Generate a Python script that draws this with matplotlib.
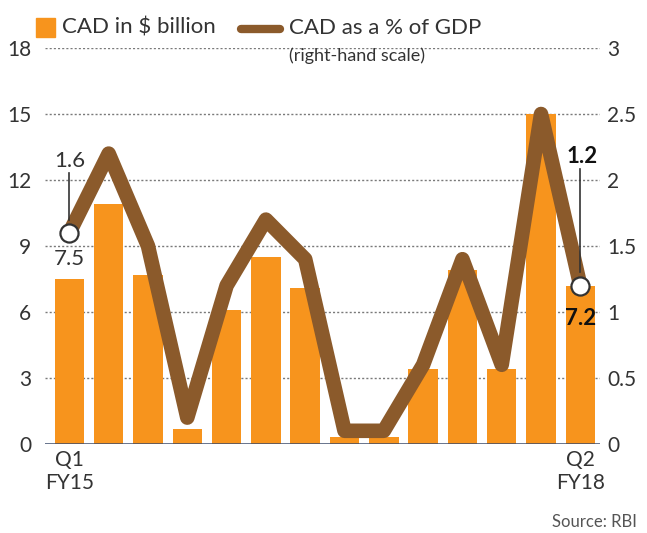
import matplotlib
matplotlib.use("Agg")
import matplotlib.pyplot as plt
from matplotlib.lines import Line2D
import numpy as np

quarters = ["Q1\nFY15", "Q2", "Q3", "Q4", "Q1", "Q2", "Q3", "Q4",
            "Q1", "Q2", "Q3", "Q4", "Q1", "Q2\nFY18"]
cad_bn = [7.5, 10.9, 7.7, 0.7, 6.1, 8.5, 7.1, 0.3, 0.3, 3.4, 7.9, 3.4, 15.0, 7.2]
cad_pct = [1.6, 2.2, 1.5, 0.2, 1.2, 1.7, 1.4, 0.1, 0.1, 0.6, 1.4, 0.6, 2.5, 1.2]
left_ticks = [0, 3, 6, 9, 12, 15, 18]
right_ticks = [0, 0.5, 1, 1.5, 2, 2.5, 3]
right_labels = ["0", "0.5", "1", "1.5", "2", "2.5", "3"]

ORANGE = "#F7941D"
BROWN = "#8B5A2B"
TXT = "#333333"

plt.rcParams['font.family'] = ['Lato', 'DejaVu Sans']

fig = plt.figure(figsize=(6.47, 5.33), dpi=100)
ax = fig.add_axes([45/647, 89/533, 555/647, 396/533])
ax2 = ax.twinx()

x = np.arange(len(cad_bn))
ax.bar(x, cad_bn, width=0.75, color=ORANGE, zorder=2)
ax.set_ylim(0, 18)
ax.set_xlim(-0.62, 13.5)
ax.set_yticks(left_ticks)
ax.set_yticklabels([str(t) for t in left_ticks])
for t in left_ticks[1:]:
    ax.plot([-0.62, 13.5], [t, t], color="#7a7a7a", lw=1.0,
            ls=(0, (1.5, 1.5)), zorder=1.5)
ax.axhline(0, color="#3a4a6a", lw=1.8, zorder=5)

ax2.plot(x, cad_pct, color=BROWN, lw=10.5, solid_joinstyle="round",
         solid_capstyle="round", zorder=3)
ax2.set_ylim(0, 3)
ax2.set_yticks(right_ticks)
ax2.set_yticklabels(right_labels)

ax.set_xticks([0, 13])
ax.set_xticklabels([quarters[0], quarters[-1]])

for a in (ax, ax2):
    for s in a.spines.values():
        s.set_visible(False)
    a.tick_params(length=0, labelsize=15, colors=TXT, pad=6)
ax.tick_params(axis="y", pad=10)
ax.tick_params(axis="x", pad=4)
ax2.tick_params(axis="y", pad=5)

# annotations
ax2.plot([0, 0], [cad_pct[0] + 0.1, cad_pct[0] + 0.45], color="#333333", lw=1.2, zorder=6)
ax2.scatter([0], [cad_pct[0]], s=170, facecolor="white", edgecolor="#333333", lw=1.6, zorder=7)
ax2.text(0, cad_pct[0] + 0.47, "1.6", fontsize=16, color=TXT, ha="center", va="bottom", zorder=7)
ax2.text(0, cad_pct[0] - 0.12, "7.5", fontsize=16, color=TXT, ha="center", va="top", zorder=7)

ax2.plot([13, 13], [cad_pct[-1] + 0.1, 2.08], color="#333333", lw=1.2, zorder=6)
ax2.scatter([13], [cad_pct[-1]], s=170, facecolor="white", edgecolor="#333333", lw=1.6, zorder=7)
ax2.text(13.05, 2.1, "1.2", fontsize=16, color="#111111", fontweight="bold",
         ha="center", va="bottom", zorder=7)
ax2.text(13.0, cad_pct[-1] - 0.17, "7.2", fontsize=16, color="#111111", fontweight="bold",
         ha="center", va="top", zorder=7)

# legend
fig.add_artist(plt.Rectangle((36/647, 1 - 37/533), 19/647, 19/533,
                             transform=fig.transFigure, color=ORANGE))
fig.text(62/647, 1 - 28/533, "CAD in $ billion", fontsize=16, color=TXT, va="center", ha="left")
fig.add_artist(Line2D([241/647, 280/647], [1 - 29/533, 1 - 29/533], transform=fig.transFigure,
                      color=BROWN, lw=6, solid_capstyle="round"))
fig.text(289/647, 1 - 28/533, "CAD as a % of GDP", fontsize=16, color=TXT, va="center", ha="left")
fig.text(289/647, 1 - 56/533, "(right-hand scale)", fontsize=13, color=TXT, va="center", ha="left")

fig.text(637/647, 1 - 522/533, "Source: RBI", fontsize=12, color="#555555", ha="right", va="center")

fig.savefig("out.png", dpi=100, facecolor="white")
